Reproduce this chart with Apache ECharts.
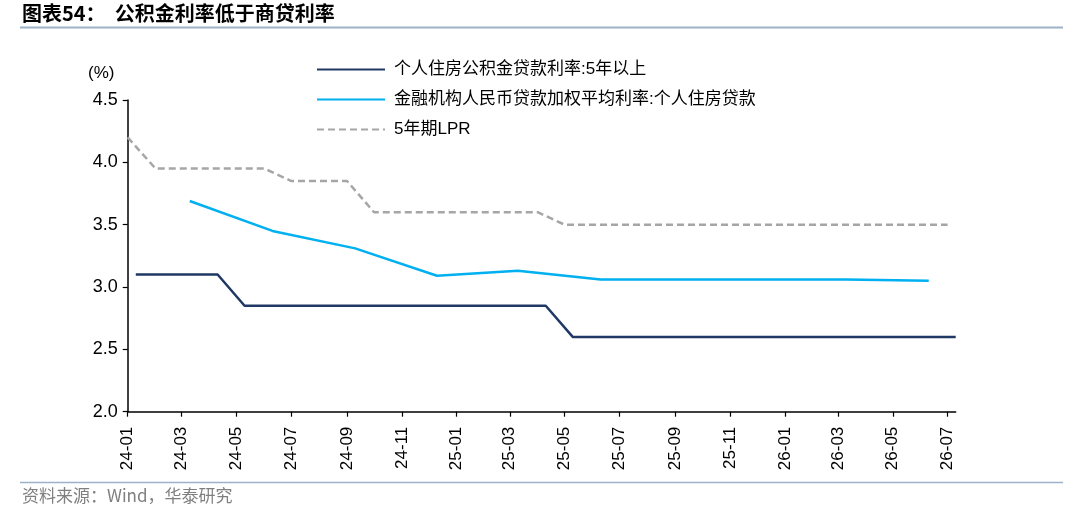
<!DOCTYPE html>
<html><head><meta charset="utf-8">
<script src="https://cdn.jsdelivr.net/npm/echarts@6/dist/echarts.min.js"></script>
<style>html,body{margin:0;padding:0;background:#fff}#c{width:1080px;height:509px}</style>
</head><body><div id="c"></div>
<script>
const months = ['2024-01','2024-02','2024-03','2024-04','2024-05','2024-06','2024-07','2024-08','2024-09','2024-10','2024-11','2024-12',
  '2025-01','2025-02','2025-03','2025-04','2025-05','2025-06','2025-07','2025-08','2025-09','2025-10','2025-11','2025-12',
  '2026-01','2026-02','2026-03','2026-04','2026-05','2026-06','2026-07'];
const fundValues = [3.10,3.10,3.10,3.10,2.85,2.85,2.85,2.85,2.85,2.85,2.85,2.85,
  2.85,2.85,2.85,2.85,2.60,2.60,2.60,2.60,2.60,2.60,2.60,2.60,
  2.60,2.60,2.60,2.60,2.60,2.60,2.60];
const lprValues = [4.20,3.95,3.95,3.95,3.95,3.95,3.85,3.85,3.85,3.60,3.60,3.60,
  3.60,3.60,3.60,3.60,3.50,3.50,3.50,3.50,3.50,3.50,3.50,3.50,
  3.50,3.50,3.50,3.50,3.50,3.50,3.50];
const quarters = ['2024-03','2024-06','2024-09','2024-12','2025-03','2025-06','2025-09','2025-12','2026-03','2026-06'];
const mortgageValues = [3.69,3.45,3.31,3.09,3.13,3.06,3.06,3.06,3.06,3.05];
const tickLabels = ['24-01','24-03','24-05','24-07','24-09','24-11','25-01','25-03','25-05','25-07','25-09','25-11','26-01','26-03','26-05','26-07'];
const seriesNames = ['个人住房公积金贷款利率:5年以上','金融机构人民币贷款加权平均利率:个人住房贷款','5年期LPR'];

const DAY = 86400000;
const ts = s => { const [y,m,d] = s.split('-').map(Number); return Date.UTC(y, m-1, d) / DAY; };
const tickValues = tickLabels.map(l => ts('20' + l + '-01'));
const labelOf = {};
tickLabels.forEach((l, i) => { labelOf[tickValues[i]] = l; });
const FONT = '"Liberation Sans","Noto Sans CJK SC",sans-serif';
const CJK = '"Noto Sans CJK SC","Liberation Sans",sans-serif';

const chart = echarts.init(document.getElementById('c'));
chart.setOption({
  animation: false,
  backgroundColor: '#fff',
  textStyle: { fontFamily: FONT },
  grid: { left: 127.7, right: 124.3, top: 100, bottom: 97.3, containLabel: false },
  legend: {
    left: 311, top: 56, orient: 'vertical',
    itemWidth: 68, itemHeight: 12, itemGap: 13,
    data: seriesNames,
    itemStyle: { opacity: 0 },
    textStyle: { fontSize: 17, color: '#000', fontFamily: FONT, padding: [0,0,0,4] }
  },
  xAxis: {
    type: 'value',
    min: ts('2024-01-01'), max: ts('2026-07-10'),
    axisLine: { show: true, onZero: false, lineStyle: { color: '#000', width: 1.5 } },
    axisTick: { show: true, length: 5, lineStyle: { color: '#000', width: 1.2 }, customValues: tickValues },
    axisLabel: {
      customValues: tickValues, rotate: 90, margin: 15, fontSize: 17, color: '#000', fontFamily: FONT,
      formatter: v => labelOf[v] || ''
    },
    splitLine: { show: false }
  },
  yAxis: {
    type: 'value', min: 2, max: 4.5, interval: 0.5,
    axisLine: { show: true, lineStyle: { color: '#000', width: 1.5 } },
    axisTick: { show: true, length: 5, lineStyle: { color: '#000', width: 1.2 } },
    axisLabel: { fontSize: 18, color: '#000', margin: 10, fontFamily: FONT, formatter: v => v.toFixed(1) },
    splitLine: { show: false }
  },
  graphic: [
    { type: 'text', left: 22, top: 3, style: { text: '图表54：  公积金利率低于商贷利率', fontSize: 20, fontWeight: 'bold', fill: '#000', fontFamily: CJK } },
    { type: 'line', shape: { x1: 20, y1: 27.5, x2: 1063, y2: 27.5 }, style: { stroke: '#9DB2C9', lineWidth: 2 } },
    { type: 'text', left: 88, top: 65, style: { text: '(%)', fontSize: 17, fill: '#000', fontFamily: FONT } },
    { type: 'line', shape: { x1: 20, y1: 482.5, x2: 1063, y2: 482.5 }, style: { stroke: '#9DB2C9', lineWidth: 1.5 } },
    { type: 'text', left: 22, top: 487, style: { text: '资料来源：Wind，华泰研究', fontSize: 17, fill: '#7F7F7F', fontFamily: CJK } }
  ],
  series: [
    { name: seriesNames[0], type: 'line', symbol: 'none', data: months.map((m,i) => [ts(m + '-10'), fundValues[i]]),
      lineStyle: { color: '#203864', width: 2.5 }, itemStyle: { color: '#203864' } },
    { name: seriesNames[1], type: 'line', symbol: 'none', data: quarters.map((m,i) => [ts(m + '-10'), mortgageValues[i]]),
      lineStyle: { color: '#00B0F0', width: 2.5 }, itemStyle: { color: '#00B0F0' } },
    { name: seriesNames[2], type: 'line', symbol: 'none', data: months.map((m,i) => [ts(m + '-01'), lprValues[i]]),
      lineStyle: { color: '#A6A6A6', width: 2.5, type: [7,4] }, itemStyle: { color: '#A6A6A6' } }
  ]
});
</script></body></html>
